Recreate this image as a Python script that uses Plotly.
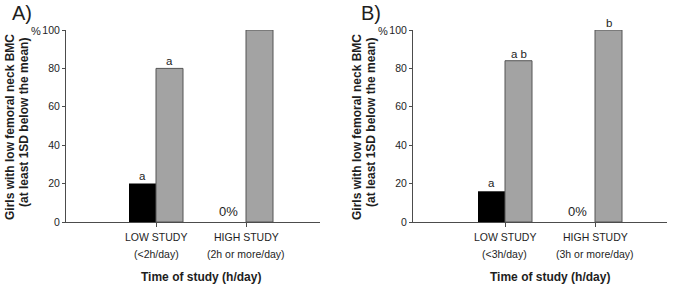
import plotly.graph_objects as go

W, H = 685, 286

categories = ["LOW STUDY", "HIGH STUDY"]
cat_pos = [0, 1]

a_black = [20, 0]
a_grey = [80, 100]
a_black_letters = ["a", ""]
a_grey_letters = ["a", ""]
a_sublabels = ["(<2h/day)", "(2h or more/day)"]

b_black = [16, 0]
b_grey = [84, 100]
b_black_letters = ["a", ""]
b_grey_letters = ["a b", "b"]
b_sublabels = ["(<3h/day)", "(3h or more/day)"]

y_ticks = [0, 20, 40, 60, 80, 100]

TXT = "#1e1e1e"
AXC = "#4c4c4c"
GREY_FILL = "#a3a3a3"
GREY_LINE = "#555555"
FONT = "Liberation Sans, Arial, sans-serif"


def px_x(p):
    return p / W


def px_y(p):
    return (H - p) / H


panels = [
    dict(label="A)", black=a_black, grey=a_grey, bl=a_black_letters, gl=a_grey_letters,
         sub=a_sublabels, x0=66, x1=320, c0=156, xa="x", ya="y", lab_x=22, pct_x=36,
         yt1=10, yt2=24),
    dict(label="B)", black=b_black, grey=b_grey, bl=b_black_letters, gl=b_grey_letters,
         sub=b_sublabels, x0=413, x1=667, c0=505, xa="x2", ya="y2", lab_x=371, pct_x=383,
         yt1=357, yt2=371),
]

fig = go.Figure()
annotations = []
unit = 90.0  # px per category
y_bottom, y_top = 222, 30

for i, p in enumerate(panels):
    fig.add_trace(go.Bar(x=cat_pos, y=p["black"], xaxis=p["xa"], yaxis=p["ya"],
                         marker=dict(color="#000000", line=dict(width=0)),
                         offsetgroup="1", showlegend=False, cliponaxis=False))
    fig.add_trace(go.Bar(x=cat_pos, y=p["grey"], xaxis=p["xa"], yaxis=p["ya"],
                         marker=dict(color=GREY_FILL, line=dict(color=GREY_LINE, width=1)),
                         offsetgroup="2", showlegend=False, cliponaxis=False))
    xr = "x" if i == 0 else "x2"
    yr = "y" if i == 0 else "y2"
    for c, v, t in zip(cat_pos, p["black"], p["bl"]):
        if t:
            annotations.append(dict(x=c - 0.15, y=v, xref=xr, yref=yr, text=t, showarrow=False,
                                    yanchor="middle", yshift=8, font=dict(size=11.5, color=TXT, family=FONT)))
    for c, v, t in zip(cat_pos, p["grey"], p["gl"]):
        if t:
            annotations.append(dict(x=c + 0.15, y=v, xref=xr, yref=yr, text=t, showarrow=False,
                                    yanchor="middle", yshift=7, font=dict(size=11.5, color=TXT, family=FONT)))
    for c, v in zip(cat_pos, p["black"]):
        if v == 0:
            annotations.append(dict(x=c - 0.2, y=v, xref=xr, yref=yr, text="0%", showarrow=False,
                                    yanchor="middle", yshift=11, font=dict(size=13, color=TXT, family=FONT)))
    for c, name, sub in zip(cat_pos, categories, p["sub"]):
        annotations.append(dict(x=c, y=px_y(237), xref=xr, yref="paper", text=name, showarrow=False,
                                yanchor="middle", font=dict(size=10.5, color=TXT, family=FONT)))
        annotations.append(dict(x=c, y=px_y(254), xref=xr, yref="paper", text=sub, showarrow=False,
                                yanchor="middle", font=dict(size=10.5, color=TXT, family=FONT)))
    annotations.append(dict(x=0.5, y=px_y(277), xref=xr, yref="paper", text="<b>Time of study (h/day)</b>",
                            showarrow=False, yanchor="middle", font=dict(size=12, color=TXT, family=FONT)))
    annotations.append(dict(x=px_x(p["lab_x"]), y=px_y(13), xref="paper", yref="paper", text=p["label"],
                            showarrow=False, yanchor="middle", xanchor="center",
                            font=dict(size=20, color=TXT, family=FONT)))
    annotations.append(dict(x=px_x(p["pct_x"]), y=px_y(31), xref="paper", yref="paper", text="%",
                            showarrow=False, yanchor="middle", xanchor="center",
                            font=dict(size=11, color=TXT, family=FONT)))
    annotations.append(dict(x=px_x(p["yt1"]), y=px_y(127), xref="paper", yref="paper",
                            text="<b>Girls with low femoral neck BMC</b>", textangle=-90,
                            showarrow=False, yanchor="middle", xanchor="center",
                            font=dict(size=12, color=TXT, family=FONT)))
    annotations.append(dict(x=px_x(p["yt2"]), y=px_y(123), xref="paper", yref="paper",
                            text="<b>(at least 1SD below the mean)</b>", textangle=-90,
                            showarrow=False, yanchor="middle", xanchor="center",
                            font=dict(size=12, color=TXT, family=FONT)))

    xaxis = dict(domain=[px_x(p["x0"]), px_x(p["x1"])],
                 range=[(p["x0"] - p["c0"]) / unit, (p["x1"] - p["c0"]) / unit],
                 showline=True, linecolor=AXC, linewidth=1, ticks="outside", ticklen=4,
                 tickcolor=AXC, tickvals=cat_pos, showticklabels=False, showgrid=False,
                 zeroline=False, fixedrange=True, anchor=yr, automargin=False)
    yaxis = dict(domain=[px_y(y_bottom), px_y(y_top)], range=[0, 100], showline=True,
                 linecolor=AXC, linewidth=1, ticks="outside", ticklen=3, tickcolor=AXC,
                 tickvals=y_ticks, tickfont=dict(size=10.5, color=TXT, family=FONT),
                 showgrid=False, zeroline=False, anchor=xr, automargin=False)
    if i == 0:
        fig.update_layout(xaxis=xaxis, yaxis=yaxis)
    else:
        fig.update_layout(xaxis2=xaxis, yaxis2=yaxis)

fig.update_layout(template="none", width=W, height=H, autosize=False,
                  margin=dict(l=0, r=0, t=0, b=0, pad=0),
                  paper_bgcolor="white", plot_bgcolor="white", barmode="group",
                  bargap=0.4, bargroupgap=0, annotations=annotations, showlegend=False,
                  font=dict(family=FONT, color=TXT))

fig.write_html("out.html", config={"displayModeBar": False},
               post_script="document.body.style.margin='0';document.body.style.overflow='hidden';")
